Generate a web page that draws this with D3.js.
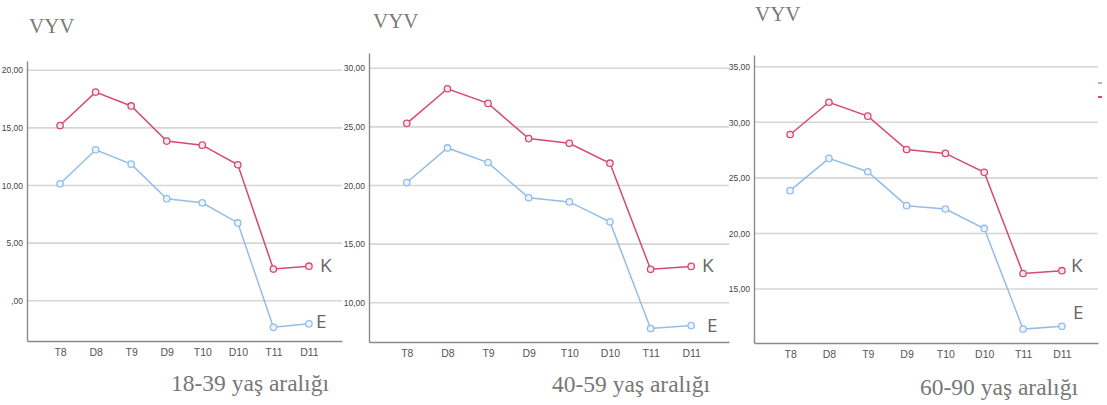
<!DOCTYPE html>
<html>
<head>
<meta charset="UTF-8">
<title>VYV</title>
<script src="https://cdn.jsdelivr.net/npm/d3@7"></script>
<style>
    body { margin: 0; background: #fff; }
    .tick text { font-family: "Liberation Sans Narrow", "Liberation Sans", Arial, sans-serif; }
</style>
</head>
<body>
<div id="chart"></div>
<script>
// categories
var weeks = ["T8", "D8", "T9", "D9", "T10", "D10", "T11", "D11"];

// values
var kGenc = [15.2, 18.1, 16.9, 13.85, 13.5, 11.8, 2.75, 3.0];
var eGenc = [10.15, 13.1, 11.85, 8.85, 8.5, 6.75, -2.3, -2.0];
var kOrta = [25.3, 28.25, 27.0, 24.0, 23.6, 21.9, 12.85, 13.1];
var eOrta = [20.25, 23.2, 21.95, 18.95, 18.6, 16.9, 7.8, 8.05];
var kYasli = [28.9, 31.8, 30.55, 27.55, 27.2, 25.5, 16.4, 16.65];
var eYasli = [23.85, 26.75, 25.55, 22.5, 22.2, 20.45, 11.4, 11.65];

// tick values
var ticksGenc = [0, 5, 10, 15, 20];
var ticksOrta = [10, 15, 20, 25, 30];
var ticksYasli = [15, 20, 25, 30, 35];

var yasGruplari = ["18-39 yaş aralığı", "40-59 yaş aralığı", "60-90 yaş aralığı"];

var width = 1107, height = 405;
var kRenk = "#d64a6e", eRenk = "#92bdea";

var svg = d3.select("#chart").append("svg")
    .attr("width", width)
    .attr("height", height);

// virgullu sayi bicimi (SPSS gibi ",00")
var tr = d3.formatLocale({ decimal: ",", thousands: ".", grouping: [3], currency: ["", ""] });
var fmt = function (v) { return tr.format(".2f")(v).replace(/^0,/, ","); };

// panel yerlesimi
var panels = [
    { k: kGenc, e: eGenc, ticks: ticksGenc, x0: 27, x1: 342, top: 61, bottom: 341,
      yDom: [-3.49, 20.8], titleX: 29, titleY: 33, subX: 171, subY: 391,
      kLab: [320, 265], eLab: [316, 321] },
    { k: kOrta, e: eOrta, ticks: ticksOrta, x0: 369, x1: 729, top: 53, bottom: 342,
      yDom: [6.65, 31.3], titleX: 373, titleY: 28, subX: 552, subY: 392,
      kLab: [702, 265], eLab: [707, 325] },
    { k: kYasli, e: eYasli, ticks: ticksYasli, x0: 754, x1: 1098, top: 55, bottom: 343,
      yDom: [10.15, 36.05], titleX: 755, titleY: 21, subX: 920, subY: 395,
      kLab: [1071, 265], eLab: [1073, 312] }
];

panels.forEach(function (p, i) {
    var g = svg.append("g");

    var x = d3.scalePoint()
        .domain(weeks)
        .range([p.x0, p.x1])
        .padding(0.93);

    var y = d3.scaleLinear()
        .domain(p.yDom)
        .range([p.bottom, p.top]);

    // izgara cizgileri
    g.append("g").selectAll("line")
        .data(p.ticks)
        .enter().append("line")
        .attr("x1", p.x0)
        .attr("x2", p.x1)
        .attr("y1", function (d) { return y(d); })
        .attr("y2", function (d) { return y(d); })
        .attr("stroke", "#d6d6d6")
        .attr("stroke-width", 1.6);

    // y ekseni
    var yAx = g.append("g")
        .attr("transform", "translate(" + p.x0 + ",0)")
        .call(d3.axisLeft(y).tickValues(p.ticks).tickFormat(fmt).tickSize(0).tickPadding(4));
    yAx.select(".domain").attr("stroke", "#8a8a8a").attr("stroke-width", 1.4);
    yAx.selectAll("text").attr("font-size", "8.5px").attr("fill", "#444");

    // x ekseni
    var xAx = g.append("g")
        .attr("transform", "translate(0," + p.bottom + ")")
        .call(d3.axisBottom(x).tickSize(0).tickPadding(8));
    xAx.select(".domain").attr("stroke", "#8a8a8a").attr("stroke-width", 1.4);
    xAx.selectAll("text").attr("font-size", "10.5px").attr("fill", "#555");

    var line = d3.line()
        .x(function (d, j) { return x(weeks[j]); })
        .y(function (d) { return y(d); });

    [[p.e, eRenk, "#eef5fd"], [p.k, kRenk, "#fbe9ee"]].forEach(function (s) {
        g.append("path")
            .datum(s[0])
            .attr("d", line)
            .attr("fill", "none")
            .attr("stroke", s[1])
            .attr("stroke-width", 1.5);

        g.append("g").selectAll("circle")
            .data(s[0])
            .enter().append("circle")
            .attr("cx", function (d, j) { return x(weeks[j]); })
            .attr("cy", function (d) { return y(d); })
            .attr("r", 3.2)
            .attr("fill", s[2])
            .attr("stroke", s[1])
            .attr("stroke-width", 1.3);
    });

    // K / E etiketleri
    g.append("text")
        .attr("x", p.kLab[0]).attr("y", p.kLab[1])
        .attr("dy", "0.35em")
        .attr("font-family", "'Open Sans', 'DejaVu Sans', sans-serif")
        .attr("font-size", "19px")
        .attr("fill", "#666")
        .text("K");
    g.append("text")
        .attr("x", p.eLab[0]).attr("y", p.eLab[1])
        .attr("dy", "0.35em")
        .attr("font-family", "'Open Sans', 'DejaVu Sans', sans-serif")
        .attr("font-size", "19px")
        .attr("fill", "#666")
        .text("E");

    // baslik
    g.append("text")
        .attr("x", p.titleX).attr("y", p.titleY)
        .attr("font-family", "'Liberation Serif', 'Times New Roman', serif")
        .attr("font-size", "21px")
        .attr("fill", "#7a7a7a")
        .text("VYV");

    // yas grubu
    g.append("text")
        .attr("x", p.subX).attr("y", p.subY)
        .attr("font-family", "'Liberation Serif', 'Times New Roman', serif")
        .attr("font-size", "23.5px")
        .attr("fill", "#777")
        .text(yasGruplari[i]);
});

// kirpilmis lejant parcalari (sag kenar)
svg.append("rect").attr("x", 1098).attr("y", 82).attr("width", 4).attr("height", 2).attr("fill", eRenk);
svg.append("rect").attr("x", 1098).attr("y", 96).attr("width", 4).attr("height", 2).attr("fill", kRenk);
</script>
</body>
</html>
